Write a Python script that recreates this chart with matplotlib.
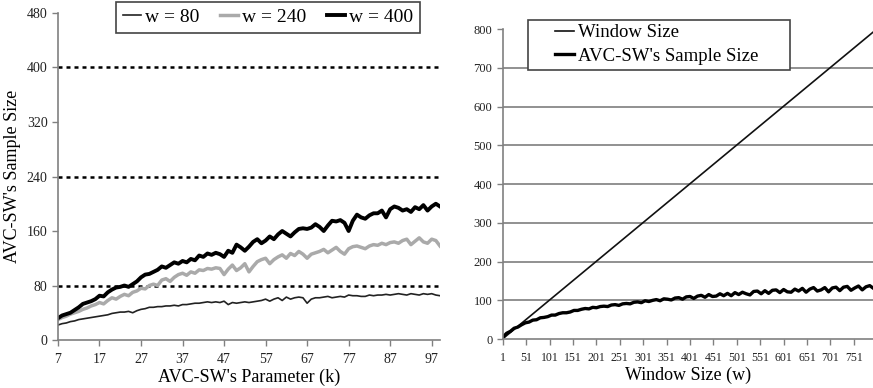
import matplotlib
matplotlib.use("Agg")
import matplotlib.pyplot as plt
from matplotlib.patches import Rectangle

plt.rcParams['font.family'] = ['Liberation Serif', 'DejaVu Serif']

# left panel: sample size vs parameter k, for three window sizes
k_values = list(range(7, 100))
window_levels = [80, 240, 400]

size_w80 = [
    22, 24, 25, 27, 28, 30, 31, 32, 33, 34,
    35, 36, 37, 39, 40, 41, 41, 42, 40, 43,
    45, 46, 48, 48, 49, 49, 50, 50, 51, 50,
    52, 52, 53, 54, 54, 55, 56, 55, 56, 55,
    57, 52, 55, 54, 55, 56, 55, 56, 57, 58,
    60, 57, 60, 62, 58, 63, 60, 62, 63, 62,
    54, 60, 62, 62, 63, 64, 62, 63, 64, 63,
    66, 65, 65, 64, 64, 66, 65, 66, 66, 67,
    66, 67, 68, 67, 66, 68, 67, 66, 68, 67,
    68, 66, 65,
]
size_w240 = [
    30, 33, 35, 38, 40, 42, 45, 47, 50, 52,
    55, 53, 58, 62, 60, 64, 67, 65, 70, 72,
    76, 75, 80, 82, 80, 88, 90, 86, 92, 96,
    98, 95, 100, 98, 103, 102, 105, 104, 106, 105,
    96, 104, 110, 102, 106, 112, 100, 108, 115, 118,
    120, 112, 118, 122, 125, 120, 127, 124, 130, 126,
    120, 126, 128, 130, 133, 128, 132, 136, 130, 126,
    134, 137, 138, 136, 134, 138, 140, 139, 142, 140,
    143, 144, 142, 146, 148, 140, 145, 150, 144, 142,
    148, 146, 138,
]
size_w400 = [
    32, 36, 38, 40, 44, 48, 53, 55, 57, 60,
    65, 64, 70, 74, 77, 78, 80, 78, 82, 86,
    92, 96, 97, 100, 103, 108, 106, 110, 114, 112,
    116, 114, 119, 117, 124, 122, 127, 125, 128, 126,
    122, 131, 128, 140, 136, 131, 137, 144, 148, 142,
    146, 152, 148, 155, 160, 156, 152, 158, 163, 164,
    163, 165, 170, 166, 160, 168, 175, 174, 176, 172,
    160, 175, 184, 180, 178, 183, 186, 186, 190, 180,
    192, 196, 194, 190, 192, 188, 195, 192, 198, 190,
    196, 200, 196,
]

# right panel: sample size vs window size w
w_values = list(range(1, 800, 8))
window_ends = [1, 800]
sample_size = [
    5, 15, 20, 28, 31, 37, 42, 44, 49, 50,
    55, 56, 58, 62, 62, 66, 68, 68, 70, 74,
    74, 77, 79, 78, 82, 81, 84, 85, 84, 88,
    89, 87, 91, 92, 91, 95, 96, 94, 99, 97,
    100, 102, 99, 104, 103, 101, 106, 107, 103, 109,
    110, 105, 111, 113, 108, 115, 110, 111, 117, 112,
    118, 112, 120, 115, 121, 117, 114, 123, 124, 117,
    125, 118, 126, 127, 120, 128, 122, 121, 129, 124,
    131, 121, 129, 133, 124, 127, 133, 122, 132, 134,
    125, 134, 136, 126, 132, 137, 127, 135, 138, 131,
]

left_yticks = [0, 80, 160, 240, 320, 400, 480]
left_xticks = list(range(7, 98, 10))
right_yticks = list(range(0, 801, 100))
right_xticks = list(range(1, 752, 50))

axis_gray = '#808080'

fig = plt.figure(figsize=(8.73, 3.88), dpi=100)
ax1 = fig.add_axes([0.0664, 0.1237, 0.4376, 0.8428])
ax2 = fig.add_axes([0.576, 0.126, 0.424, 0.799])

for ax in (ax1, ax2):
    for s in ('top', 'right'):
        ax.spines[s].set_visible(False)
    for s in ('left', 'bottom'):
        ax.spines[s].set_color(axis_gray)
        ax.spines[s].set_linewidth(1.2)
    ax.tick_params(axis='both', colors=axis_gray, labelcolor='#222222',
                   length=4, width=1, direction='out')
    ax.tick_params(axis='x', pad=5)

# ---- left
for lvl in window_levels:
    ax1.axhline(lvl, color='black', lw=1.8, ls=(0, (1.6, 1.6)), zorder=1)
ax1.plot(k_values, size_w80, color='#222222', lw=1.2, label='w = 80')
ax1.plot(k_values, size_w240, color='#aaaaaa', lw=2.5, label='w = 240')
ax1.plot(k_values, size_w400, color='black', lw=2.8, label='w = 400')
ax1.set_xlim(7, 99)
ax1.set_ylim(0, 480)
ax1.set_xticks(left_xticks)
ax1.set_yticks(left_yticks)
ax1.tick_params(axis='both', labelsize=10)
ax1.set_xlabel("AVC-SW's Parameter (k)", fontsize=13, labelpad=2)
ax1.set_ylabel("AVC-SW's Sample Size", fontsize=13, labelpad=4)
leg1 = ax1.legend(loc='upper center', bbox_to_anchor=(0.55, 1.035), ncol=3,
                  fontsize=14, handlelength=0.9, handletextpad=0.2,
                  columnspacing=1.1, fancybox=False, framealpha=1,
                  borderpad=0.35, borderaxespad=0)
leg1.get_frame().set_edgecolor('#444444')
leg1.get_frame().set_linewidth(1.2)

# ---- right
for t in right_yticks[1:-1]:
    ax2.axhline(t, color='#888888', lw=1.3, zorder=0)
ax2.plot(window_ends, window_ends, color='#111111', lw=1.2, label='Window Size')
ax2.plot(w_values, sample_size, color='black', lw=2.4,
         label="AVC-SW's Sample Size")
ax2.set_xlim(1, 792)
ax2.set_ylim(0, 800)
ax2.set_xticks(right_xticks)
ax2.set_yticks(right_yticks)
ax2.tick_params(axis='y', labelsize=9)
ax2.tick_params(axis='x', labelsize=8.5)
ax2.set_xlabel("Window Size (w)", fontsize=13, labelpad=2)

fig.add_artist(Rectangle((528 / 873, 1 - 70 / 388), 262 / 873, 50 / 388,
                         transform=fig.transFigure, facecolor='white',
                         edgecolor='#444444', lw=1.2, zorder=5))
leg2 = fig.legend(*ax2.get_legend_handles_labels(), loc='upper left',
                  bbox_to_anchor=(555 / 873, 1 - 24 / 388),
                  fontsize=13.5, handlelength=1.0, handletextpad=0.2,
                  frameon=False, borderpad=0, labelspacing=0.35,
                  borderaxespad=0)
leg2.set_zorder(6)

fig.savefig('out.png', dpi=100)
